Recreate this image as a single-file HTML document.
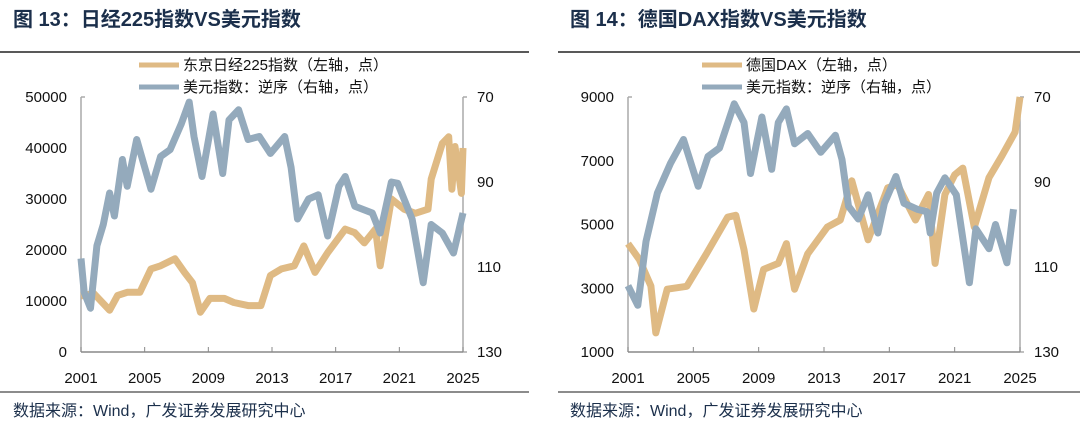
<!DOCTYPE html>
<html><head><meta charset="utf-8"><style>
body{margin:0;background:#fff;width:1080px;height:427px;overflow:hidden;font-family:"Liberation Sans","Noto Sans CJK SC",sans-serif}
svg text{font-family:"Liberation Sans","Noto Sans CJK SC",sans-serif}
</style></head><body>
<svg id="s" width="1080" height="427">
<text x="13" y="26" font-size="20" font-weight="bold" fill="#1b2f4b">图 13：日经225指数VS美元指数</text>
<text x="570" y="26" font-size="20" font-weight="bold" fill="#1b2f4b">图 14：德国DAX指数VS美元指数</text>
<line x1="0" y1="52" x2="529" y2="52" stroke="#222" stroke-width="1.5"/>
<line x1="558" y1="52" x2="1080" y2="52" stroke="#222" stroke-width="1.5"/>
<line x1="0" y1="392" x2="529" y2="392" stroke="#666" stroke-width="1.5"/>
<line x1="558" y1="392" x2="1080" y2="392" stroke="#666" stroke-width="1.5"/>
<text x="13" y="416" font-size="16" fill="#1b2f4b">数据来源：Wind，广发证券发展研究中心</text>
<text x="570" y="416" font-size="16" fill="#1b2f4b">数据来源：Wind，广发证券发展研究中心</text>
</svg>
<script>
const years=[2001,2005,2009,2013,2017,2021,2025];
const nikkeiTicks=[0,10000,20000,30000,40000,50000];
const daxTicks=[1000,3000,5000,7000,9000];
const dxyTicks=[70,90,110,130];
const nkT=[2001,2001.8,2002.8,2003.3,2003.9,2004.7,2005.4,2006,2006.9,2007.5,2008,2008.5,2009.1,2010,2010.6,2011.5,2012.3,2012.9,2013.6,2014.4,2015,2015.7,2016.5,2017.6,2018.2,2018.8,2019.5,2019.8,2020.5,2021.3,2022,2022.8,2023,2023.7,2024.1,2024.3,2024.5,2024.9,2025];
const nkV=[11000,11500,8200,11100,11700,11700,16300,16900,18300,15600,13600,7800,10500,10500,9700,9100,9100,15000,16300,16900,20800,15600,19500,24100,23400,21400,24100,16900,30000,28000,27200,28000,33900,40900,42200,31900,40300,31100,40000];
const dx1T=[2001,2001.2,2001.6,2002,2002.4,2002.8,2003.1,2003.6,2003.9,2004.5,2005.4,2006,2006.6,2007.3,2007.8,2008.1,2008.6,2009.3,2009.9,2010.3,2010.9,2011.5,2012.2,2012.9,2013.8,2014.2,2014.6,2015.3,2015.9,2016.5,2017.2,2017.6,2018.2,2019.3,2019.8,2020.5,2020.9,2021.8,2022.5,2023,2023.7,2024.4,2025];
const dx1V=[108,116,119.7,105,100,92.6,98,84.7,91,80,91.7,84,82.4,76.3,71.2,79.3,88.7,74,88,75.4,73,80,79.3,83.3,79.3,86.6,98.7,94,93,102.7,91,88.7,95.7,97.3,102,90,90.3,98.7,113.7,100,102,106.7,97.3];
const daxT=[2001,2001.7,2002.4,2002.7,2003.4,2004.6,2005.8,2007.1,2007.6,2008.1,2008.7,2009.3,2010.2,2010.7,2011.2,2012,2013.2,2014,2014.7,2015.7,2016.9,2017.5,2018.6,2019.4,2019.8,2020.4,2021,2021.5,2022.2,2023.1,2023.9,2024.7,2025];
const daxV=[4400,3900,3070,1600,2970,3060,4080,5230,5290,4210,2350,3590,3780,4400,2970,4080,4920,5140,6370,4520,6150,6250,5140,5940,3780,5940,6560,6770,4920,6470,7160,7900,9000];
const dx2T=[2001,2001.6,2002.1,2002.8,2003.6,2004.4,2005.3,2005.9,2006.6,2007.5,2008.1,2008.5,2009.2,2009.8,2010.2,2010.7,2011.2,2012,2012.8,2013.7,2014.1,2014.5,2015.1,2015.7,2016.3,2016.7,2017.4,2017.9,2018.7,2019.3,2019.5,2019.9,2020.4,2021.1,2021.9,2022.3,2023.1,2023.5,2024.2,2024.6];
const dx2V=[114.4,119,104,92.6,85.6,80,91,84,82,71.6,76,88,74.7,87,76,72.8,81,78.6,83,79,84.7,95.7,98.7,93,102,95,88.7,95,96.4,97,102,92.6,89,93,113.7,101,105.7,100,109,96.4];
const svg=document.getElementById('s');
const NS='http://www.w3.org/2000/svg';
function mk(tag,attrs,name){const e=document.createElementNS(NS,tag);for(const k in attrs)e.setAttribute(k,attrs[k]);


svg.appendChild(e);return e;}
function chart(c){
 const top=97,bot=352;
 const xs=y=>c.x0+(y-2001)/24*(c.x1-c.x0);
 const yl=v=>bot-(v-c.lmin)/(c.lmax-c.lmin)*(bot-top);
 const yr=v=>top+(v-70)/60*(bot-top);
 mk('line',{x1:c.x0,y1:top,x2:c.x0,y2:bot,stroke:'#aaa','stroke-width':1.5},c.p+'-left-axis');
 mk('line',{x1:c.x1,y1:top,x2:c.x1,y2:bot,stroke:'#aaa','stroke-width':1.5},c.p+'-right-axis');
 mk('line',{x1:c.x0,y1:bot,x2:c.x1,y2:bot,stroke:'#888','stroke-width':1.5},c.p+'-x-axis');
 mk('line',{x1:c.x0,y1:top,x2:c.x0+4,y2:top,stroke:'#aaa','stroke-width':1.5},c.p+'-left-top-tick');
 mk('line',{x1:c.x1,y1:top,x2:c.x1+4,y2:top,stroke:'#aaa','stroke-width':1.5},c.p+'-right-top-tick');
 mk('line',{x1:c.x1,y1:bot,x2:c.x1+4,y2:bot,stroke:'#aaa','stroke-width':1.5},c.p+'-right-bottom-tick');
 years.forEach(y=>{const x=xs(y);
  mk('line',{x1:x,y1:bot,x2:x,y2:bot-5,stroke:'#888'},c.p+'-x-tick');
  const t=mk('text',{x:x,y:383,'font-size':15,'text-anchor':'middle',fill:'#111'},c.p+'-x-label');t.textContent=y;});
 c.lt.forEach(v=>{const t=mk('text',{x:c.x0-14,y:yl(v)+5,'font-size':15,'text-anchor':'end',fill:'#111'},c.p+'-left-label');t.textContent=v;});
 dxyTicks.forEach(v=>{const t=mk('text',{x:c.x1+14,y:yr(v)+5,'font-size':15,fill:'#111'},c.p+'-right-label');t.textContent=v;});
 const pl=(T,V,f)=>T.map((t,i)=>xs(t).toFixed(1)+','+f(V[i]).toFixed(1)).join(' ');
 mk('polyline',{points:pl(c.lT,c.lV,yl),fill:'none',stroke:'#dfba84','stroke-width':7,'stroke-linejoin':'round'},c.p+'-left-series');
 mk('polyline',{points:pl(c.rT,c.rV,yr),fill:'none',stroke:'#94aabc','stroke-width':7,'stroke-linejoin':'round'},c.p+'-dxy-series');
 mk('line',{x1:c.lg,y1:65,x2:c.lg+40,y2:65,stroke:'#dfba84','stroke-width':5},c.p+'-legend-swatch-1');
 mk('line',{x1:c.lg,y1:87,x2:c.lg+40,y2:87,stroke:'#94aabc','stroke-width':5},c.p+'-legend-swatch-2');
 let t=mk('text',{x:c.lg+44,y:70,'font-size':15,fill:'#111'},c.p+'-legend-label-1');t.textContent=c.l1;
 t=mk('text',{x:c.lg+44,y:92,'font-size':15,fill:'#111'},c.p+'-legend-label-2');t.textContent='美元指数：逆序（右轴，点）';
}
chart({p:'chart1',x0:81,x1:463,lmin:0,lmax:50000,lt:nikkeiTicks,lT:nkT,lV:nkV,rT:dx1T,rV:dx1V,lg:139,l1:'东京日经225指数（左轴，点）'});
chart({p:'chart2',x0:628,x1:1020,lmin:1000,lmax:9000,lt:daxTicks,lT:daxT,lV:daxV,rT:dx2T,rV:dx2V,lg:702,l1:'德国DAX（左轴，点）'});
</script>
</body></html>
